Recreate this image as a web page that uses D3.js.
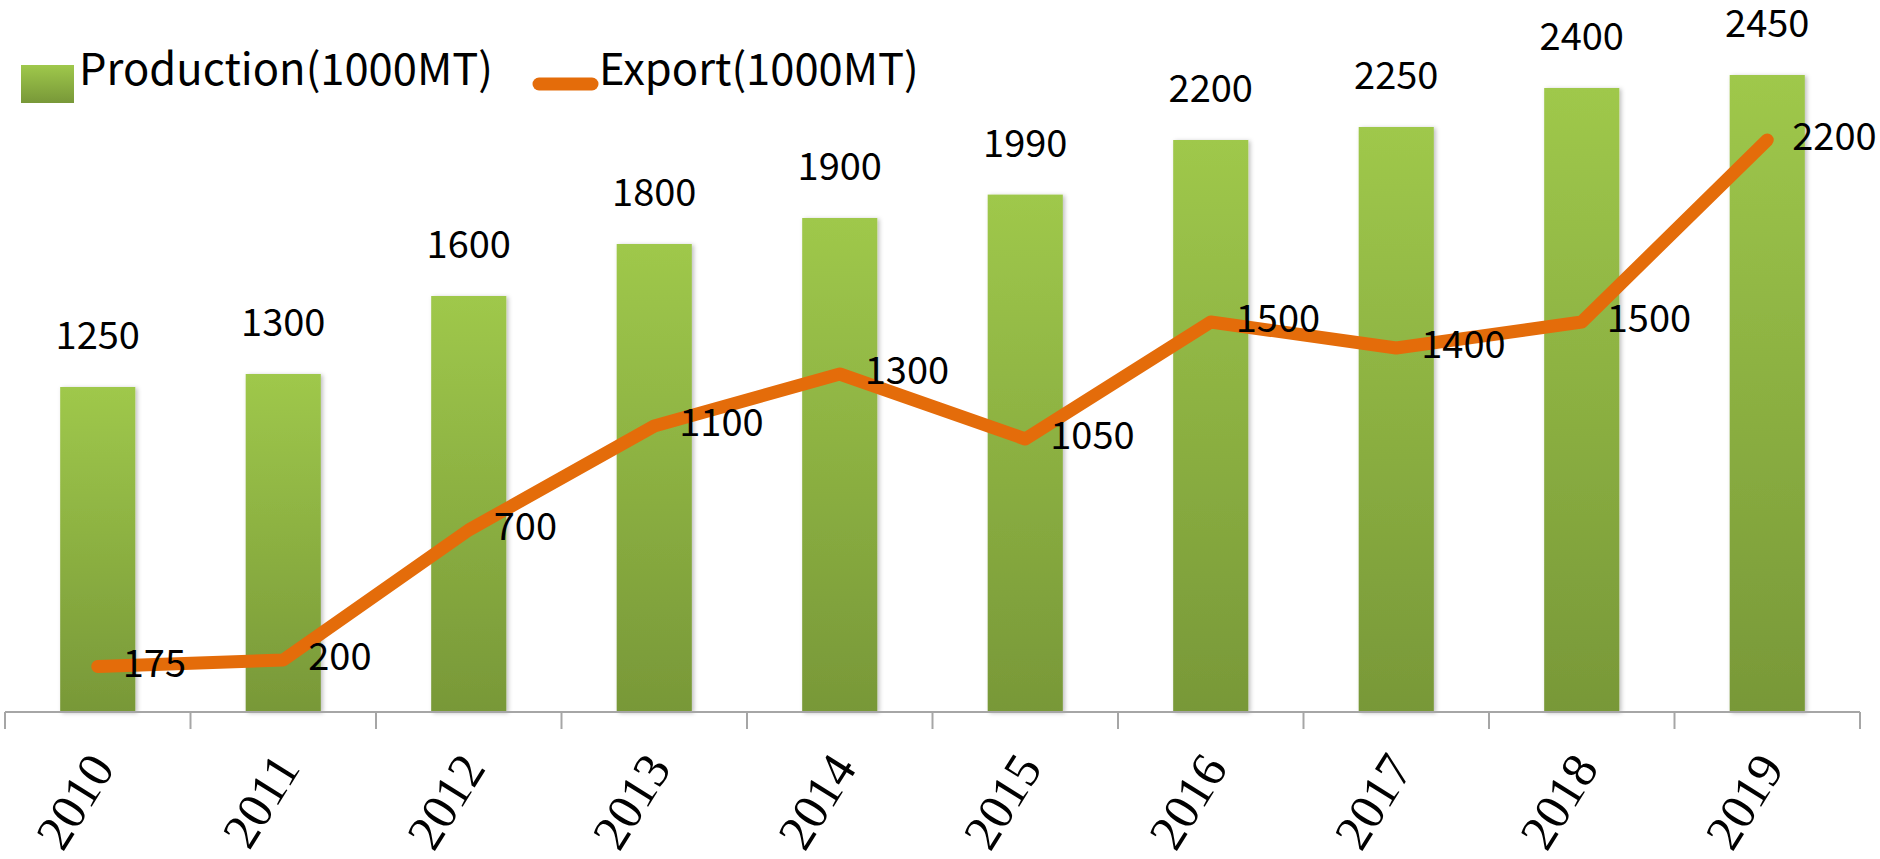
<!DOCTYPE html>
<html>
<head>
<meta charset="utf-8">
<title>Production and Export</title>
<script src="https://cdnjs.cloudflare.com/ajax/libs/d3/7.8.5/d3.min.js"></script>
<style>
body { margin: 0; background: #fff; }
.val { font-family: "Noto Sans CJK JP", "Noto Sans", sans-serif; font-size: 38px; fill: #000; }
.legend text { font-family: "Noto Sans CJK JP", "Noto Sans", sans-serif; font-size: 43.5px; fill: #000; }
.year { font-family: "Liberation Serif", serif; font-size: 50px; fill: #000; }
.axis line, .axis path { stroke: #a6a6a6; stroke-width: 2; }
</style>
</head>
<body>
<svg id="chart" width="1880" height="859"></svg>
<script>
var years = ["2010","2011","2012","2013","2014","2015","2016","2017","2018","2019"];
var production = [1250, 1300, 1600, 1800, 1900, 1990, 2200, 2250, 2400, 2450];
var exportVals = [175, 200, 700, 1100, 1300, 1050, 1500, 1400, 1500, 2200];
var seriesNames = ["Production(1000MT)", "Export(1000MT)"];

var svg = d3.select("#chart");
var plotLeft = 5, plotRight = 1860, plotBase = 712, plotTop = 62;

var x = d3.scaleBand().domain(years).range([plotLeft, plotRight]);
var y = d3.scaleLinear().domain([0, 2500]).range([plotBase, plotTop]);
var barW = x.bandwidth() * 0.405;
var cx = d => x(d) + x.bandwidth()/2;

var defs = svg.append("defs");
var grad = defs.append("linearGradient")
  .attr("id", "barGrad").attr("x1", 0).attr("y1", 0).attr("x2", 0).attr("y2", 1);
grad.append("stop").attr("offset", "0%").attr("stop-color", "#9fc84b");
grad.append("stop").attr("offset", "100%").attr("stop-color", "#789838");

var shadow = defs.append("filter").attr("id", "shadow")
  .attr("x", "-20%").attr("y", "-5%").attr("width", "140%").attr("height", "110%");
shadow.append("feDropShadow").attr("dx", 2).attr("dy", 1)
  .attr("stdDeviation", 2).attr("flood-color", "#000").attr("flood-opacity", 0.25);

// bars
svg.selectAll(".bar")
  .data(production)
  .enter().append("rect")
    .attr("class", "bar")
    .attr("x", (d, i) => cx(years[i]) - barW/2)
    .attr("y", d => y(d))
    .attr("width", barW)
    .attr("height", d => plotBase - y(d))
    .attr("fill", "url(#barGrad)")
    .attr("filter", "url(#shadow)");

// axis
var axis = svg.append("g")
  .attr("class", "axis")
  .attr("transform", `translate(0, ${plotBase})`);
axis.append("line").attr("x1", plotLeft).attr("x2", plotRight).attr("y1", 0).attr("y2", 0);
axis.selectAll(".tk")
  .data(d3.range(years.length + 1))
  .enter().append("line")
    .attr("x1", i => plotLeft + i * x.step())
    .attr("x2", i => plotLeft + i * x.step())
    .attr("y1", 0).attr("y2", 17);

svg.selectAll(".year")
  .data(years)
  .enter().append("text")
    .attr("class", "year")
    .attr("text-anchor", "end")
    .attr("transform", d => `translate(${cx(d) + 18}, ${plotBase + 56}) rotate(-58)`)
    .text(d => d);

// bar labels
svg.selectAll(".barLabel")
  .data(production)
  .enter().append("text")
    .attr("class", "val")
    .attr("text-anchor", "middle")
    .attr("x", (d, i) => cx(years[i]))
    .attr("y", d => y(d) - 38)
    .text(d => d);

// export line
var line = d3.line()
  .x((d, i) => cx(years[i]))
  .y(d => y(d));

svg.append("path")
  .datum(exportVals)
  .attr("d", line)
  .attr("fill", "none")
  .attr("stroke", "#e46c0a")
  .attr("stroke-width", 13)
  .attr("stroke-linecap", "round")
  .attr("stroke-linejoin", "round");

svg.selectAll(".lineLabel")
  .data(exportVals)
  .enter().append("text")
    .attr("class", "val")
    .attr("x", (d, i) => cx(years[i]) + 25)
    .attr("y", d => y(d) + 10)
    .text(d => d);

// legend
var legend = svg.append("g").attr("class", "legend");
legend.append("rect")
  .attr("x", 21).attr("y", 65).attr("width", 53).attr("height", 38)
  .attr("fill", "url(#barGrad)");
legend.append("text").attr("x", 79).attr("y", 85).text(seriesNames[0]);
legend.append("line")
  .attr("x1", 539).attr("x2", 592).attr("y1", 84).attr("y2", 84)
  .attr("stroke", "#e46c0a").attr("stroke-width", 13).attr("stroke-linecap", "round");
legend.append("text").attr("x", 599).attr("y", 85).text(seriesNames[1]);
</script>
</body>
</html>
